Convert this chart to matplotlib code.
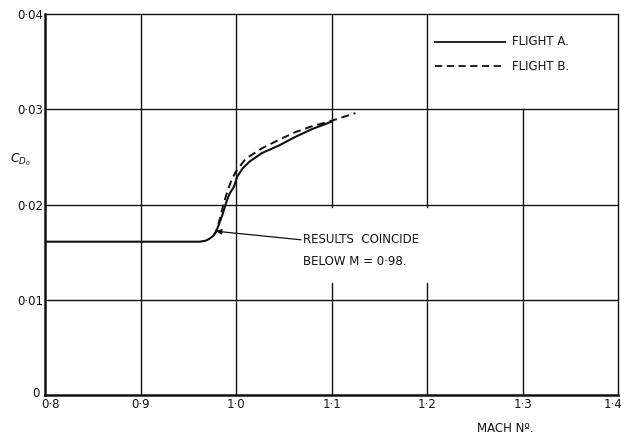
import matplotlib
matplotlib.use("Agg")
import matplotlib.pyplot as plt
import matplotlib.transforms as mtransforms

# ---- data ----
mach_a = [0.80, 0.90, 0.95, 0.962, 0.968, 0.972, 0.976, 0.979, 0.982, 0.986, 0.989, 0.993,
          0.998, 1.001, 1.007, 1.014, 1.027, 1.045, 1.062, 1.079, 1.100]
cd_a = [0.0161, 0.0161, 0.0161, 0.0161, 0.0162, 0.0164, 0.0167, 0.0171, 0.0179, 0.0190, 0.0200, 0.0211,
        0.0219, 0.0229, 0.0238, 0.0245, 0.0254, 0.0262, 0.0271, 0.0279, 0.0287]
mach_b = [0.976, 0.979, 0.982, 0.985, 0.988, 0.991, 0.995, 1.000, 1.010, 1.027, 1.045,
          1.062, 1.079, 1.097, 1.125]
cd_b = [0.0167, 0.0172, 0.0181, 0.0193, 0.0204, 0.0214, 0.0225, 0.0235, 0.0248, 0.0259, 0.0268,
        0.0276, 0.0282, 0.0287, 0.0296]
x_ticks = [0.8, 0.9, 1.0, 1.1, 1.2, 1.3, 1.4]
x_labels = ["0·8", "0·9", "1·0", "1·1", "1·2", "1·3", "1·4"]
y_ticks = [0.0, 0.01, 0.02, 0.03, 0.04]
y_labels = ["0", "0·01", "0·02", "0·03", "0·04"]
series_labels = ["FLIGHT A.", "FLIGHT B."]
note_lines = ["RESULTS  COINCIDE", "BELOW M = 0·98."]

plt.rcParams['font.family'] = ['DejaVu Sans']
fig = plt.figure(figsize=(6.25, 4.38), dpi=100)
ax = fig.add_axes([0.072, 0.098, 0.917, 0.870])
ax.set_xlim(0.8, 1.4)
ax.set_ylim(0, 0.04)

ink = "#111111"
# grid lines drawn manually (some are broken around texts / legend)
for y in [0.01, 0.02, 0.03]:
    ax.plot([0.8, 1.4], [y, y], color=ink, lw=1.0, zorder=1)
for x in [0.9, 1.0]:
    ax.plot([x, x], [0, 0.04], color=ink, lw=1.0, zorder=1)
for x in [1.1, 1.2]:
    ax.plot([x, x], [0, 0.0118], color=ink, lw=1.0, zorder=1)
    ax.plot([x, x], [0.0197, 0.04], color=ink, lw=1.0, zorder=1)
ax.plot([1.3, 1.3], [0, 0.03], color=ink, lw=1.0, zorder=1)

ax.plot(mach_a, cd_a, color=ink, lw=1.5, zorder=3)
ax.plot(mach_b, cd_b, color=ink, lw=1.4, ls=(0, (4, 2.5)), zorder=3)

for s in ["left", "bottom"]:
    ax.spines[s].set_linewidth(1.8)
for s in ["top", "right"]:
    ax.spines[s].set_linewidth(1.0)
for s in ax.spines.values():
    s.set_color(ink)

ax.set_xticks(x_ticks)
ax.set_xticklabels(x_labels)
ax.set_yticks(y_ticks)
ax.set_yticklabels(y_labels)
ax.tick_params(length=0, labelsize=8.5, colors=ink, pad=2)
ax.tick_params(axis='y', pad=1)

# nudge the end labels as in the reference
xl = ax.get_xticklabels()
xl[0].set_transform(xl[0].get_transform() + mtransforms.ScaledTranslation(6 / 100, 0, fig.dpi_scale_trans))
xl[-1].set_transform(xl[-1].get_transform() + mtransforms.ScaledTranslation(-5 / 100, 0, fig.dpi_scale_trans))
yl = ax.get_yticklabels()
yl[0].set_transform(yl[0].get_transform() + mtransforms.ScaledTranslation(-4 / 100, 3 / 100, fig.dpi_scale_trans))

# legend drawn in the box between 1.2-1.4 and 0.03-0.04
ax.plot([1.208, 1.282], [0.0371, 0.0371], color=ink, lw=1.3)
ax.plot([1.208, 1.282], [0.0345, 0.0345], color=ink, lw=1.3, ls=(0, (4, 2.5)))
ax.text(1.289, 0.0371, series_labels[0], fontsize=8.5, va='center', ha='left', color=ink)
ax.text(1.289, 0.0345, series_labels[1], fontsize=8.5, va='center', ha='left', color=ink)

# annotation
ax.annotate("", xy=(0.979, 0.0172), xytext=(1.068, 0.0163),
            arrowprops=dict(arrowstyle='-|>', color=ink, lw=0.9, mutation_scale=8,
                            shrinkA=0, shrinkB=0))
ax.text(1.070, 0.0163, note_lines[0], fontsize=8.5, va='center', ha='left', color=ink)
ax.text(1.070, 0.0140, note_lines[1], fontsize=8.5, va='center', ha='left', color=ink)

# axis titles
fig.text(20 / 625, 1 - 160 / 438, r"$C_{D_0}$", fontsize=9, ha='center', va='center', color=ink)
fig.text(505 / 625, 1 - 428 / 438, "MACH Nº.", fontsize=8.5, ha='center', va='center', color=ink)

fig.savefig("out.png", dpi=100)
